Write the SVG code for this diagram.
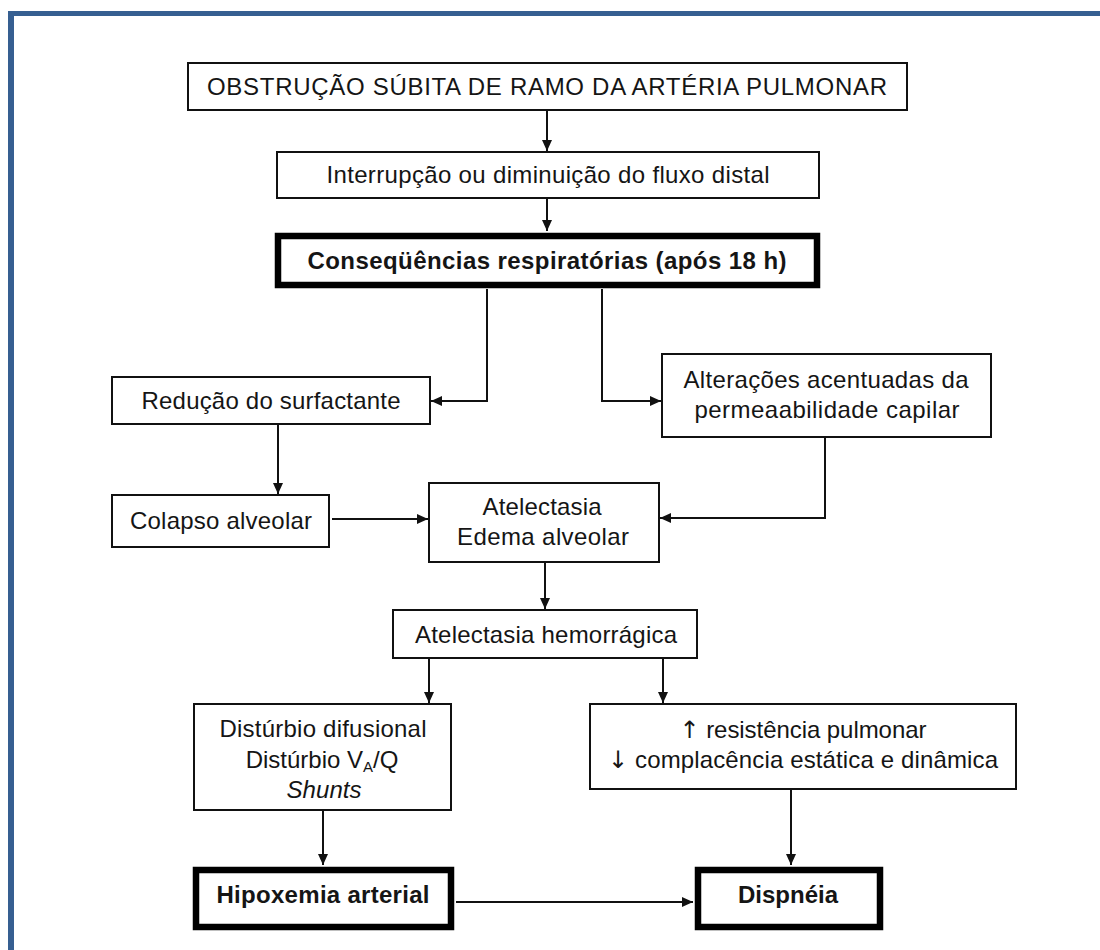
<svg xmlns="http://www.w3.org/2000/svg" width="1100" height="950" viewBox="0 0 1100 950">
<style>
.box{fill:#fff;stroke:#111;stroke-width:2}
.thick{fill:#fff;stroke:#000;stroke-width:6.5}
.t{font-family:"Liberation Sans",Arial,sans-serif;font-size:24px;fill:#151515;text-anchor:middle}
.b{font-weight:bold}
.i{font-style:italic}
.ar{font-family:"DejaVu Sans","Liberation Sans",sans-serif;font-weight:normal}
.c{fill:none;stroke:#111;stroke-width:2}
</style>
<defs>
<marker id="ah" markerUnits="userSpaceOnUse" markerWidth="12" markerHeight="10" refX="11" refY="5" orient="auto">
<path d="M0,0 L11,5 L0,10 z" fill="#111"/>
</marker>
</defs>
<rect x="0" y="0" width="1100" height="950" fill="#fff"/>
<g id="frame" fill="#365f91">
<rect x="8" y="11" width="1092" height="5"/>
<rect x="8" y="11" width="6" height="939"/>
</g>
<g id="connectors">
<line class="c" x1="547" y1="110" x2="547" y2="151" marker-end="url(#ah)"/>
<line class="c" x1="547" y1="198" x2="547" y2="231" marker-end="url(#ah)"/>
<polyline class="c" points="487,289 487,401 431,401" marker-end="url(#ah)"/>
<polyline class="c" points="602,289 602,401 661,401" marker-end="url(#ah)"/>
<line class="c" x1="278" y1="424" x2="278" y2="494" marker-end="url(#ah)"/>
<line class="c" x1="332" y1="519" x2="428" y2="519" marker-end="url(#ah)"/>
<polyline class="c" points="825,437 825,518 660,518" marker-end="url(#ah)"/>
<line class="c" x1="545" y1="562" x2="545" y2="609" marker-end="url(#ah)"/>
<line class="c" x1="429" y1="658" x2="429" y2="703" marker-end="url(#ah)"/>
<line class="c" x1="663" y1="658" x2="663" y2="703" marker-end="url(#ah)"/>
<line class="c" x1="323" y1="810" x2="323" y2="865" marker-end="url(#ah)"/>
<line class="c" x1="791" y1="789" x2="791" y2="865" marker-end="url(#ah)"/>
<line class="c" x1="456" y1="902" x2="693" y2="902" marker-end="url(#ah)"/>
</g>
<g id="n1">
<rect class="box" x="188" y="63" width="719" height="47"/>
<text class="t" x="547" y="95" textLength="680">OBSTRUÇÃO SÚBITA DE RAMO DA ARTÉRIA PULMONAR</text>
</g>
<g id="n2">
<rect class="box" x="277" y="152" width="542" height="46"/>
<text class="t" x="548" y="183" textLength="443">Interrupção ou diminuição do fluxo distal</text>
</g>
<g id="n3">
<rect class="thick" x="278" y="236" width="539" height="49"/>
<text class="t b" x="547" y="269" textLength="479">Conseqüências respiratórias (após 18 h)</text>
</g>
<g id="n4">
<rect class="box" x="112" y="377" width="318" height="47"/>
<text class="t" x="271" y="409" textLength="259">Redução do surfactante</text>
</g>
<g id="n5">
<rect class="box" x="662" y="354" width="329" height="83"/>
<text class="t" x="826" y="388" textLength="285">Alterações acentuadas da</text>
<text class="t" x="827" y="418" textLength="265">permeaabilidade capilar</text>
</g>
<g id="n6">
<rect class="box" x="112" y="495" width="217" height="52"/>
<text class="t" x="221" y="529" textLength="182">Colapso alveolar</text>
</g>
<g id="n7">
<rect class="box" x="429" y="483" width="230" height="79"/>
<text class="t" x="542" y="515" textLength="119">Atelectasia</text>
<text class="t" x="543" y="545" textLength="172">Edema alveolar</text>
</g>
<g id="n8">
<rect class="box" x="393" y="610" width="304" height="48"/>
<text class="t" x="546" y="643" textLength="262">Atelectasia hemorrágica</text>
</g>
<g id="n9">
<rect class="box" x="194" y="704" width="257" height="106"/>
<text class="t" x="323" y="737" textLength="207">Distúrbio difusional</text>
<text class="t" x="322" y="768">Distúrbio V<tspan font-size="15" dy="4">A</tspan><tspan dy="-4">/Q</tspan></text>
<text class="t i" x="324" y="798" textLength="75">Shunts</text>
</g>
<g id="n10">
<rect class="box" x="590" y="704" width="426" height="85"/>
<text class="t" x="803" y="738" textLength="247"><tspan class="ar">↑</tspan> resistência pulmonar</text>
<text class="t" x="803" y="768" textLength="390"><tspan class="ar">↓</tspan> complacência estática e dinâmica</text>
</g>
<g id="n11">
<rect class="thick" x="196" y="870" width="255" height="57"/>
<text class="t b" x="323" y="903" textLength="213">Hipoxemia arterial</text>
</g>
<g id="n12">
<rect class="thick" x="698" y="870" width="182" height="57"/>
<text class="t b" x="788" y="903" textLength="100">Dispnéia</text>
</g>
</svg>
